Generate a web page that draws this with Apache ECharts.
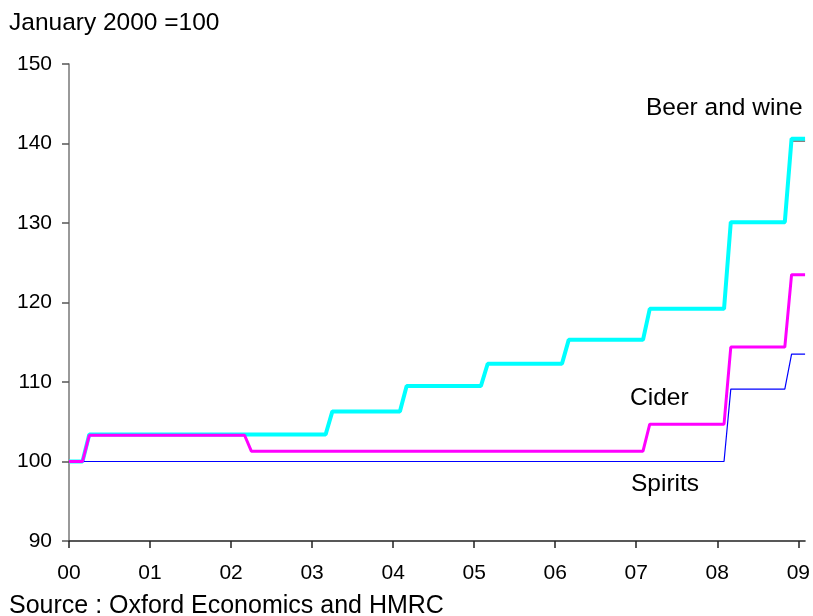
<!DOCTYPE html>
<html>
<head>
<meta charset="utf-8">
<script src="https://cdn.jsdelivr.net/npm/echarts@6/dist/echarts.min.js"></script>
<style>
  html, body { margin: 0; padding: 0; background: #fff; }
  #chartDiv { width: 813px; height: 616px; }
</style>
</head>
<body>
<div id="chartDiv"></div>
<script>
// year tick labels, one per January
const yearLabels = ["00", "01", "02", "03", "04", "05", "06", "07", "08", "09"];

// monthly index, Jan 2000 to Feb 2009, one row per year
const beerAndWine = [
    100, 100, 100, 103.4, 103.4, 103.4, 103.4, 103.4, 103.4, 103.4, 103.4, 103.4,
    103.4, 103.4, 103.4, 103.4, 103.4, 103.4, 103.4, 103.4, 103.4, 103.4, 103.4, 103.4,
    103.4, 103.4, 103.4, 103.4, 103.4, 103.4, 103.4, 103.4, 103.4, 103.4, 103.4, 103.4,
    103.4, 103.4, 103.4, 106.3, 106.3, 106.3, 106.3, 106.3, 106.3, 106.3, 106.3, 106.3,
    106.3, 106.3, 109.5, 109.5, 109.5, 109.5, 109.5, 109.5, 109.5, 109.5, 109.5, 109.5,
    109.5, 109.5, 112.3, 112.3, 112.3, 112.3, 112.3, 112.3, 112.3, 112.3, 112.3, 112.3,
    112.3, 112.3, 115.3, 115.3, 115.3, 115.3, 115.3, 115.3, 115.3, 115.3, 115.3, 115.3,
    115.3, 115.3, 119.2, 119.2, 119.2, 119.2, 119.2, 119.2, 119.2, 119.2, 119.2, 119.2,
    119.2, 119.2, 130.1, 130.1, 130.1, 130.1, 130.1, 130.1, 130.1, 130.1, 130.1, 140.6,
    140.6, 140.6
];

const beerAndWineGrey = [
    100, 100, 100, 103.4, 103.4, 103.4, 103.4, 103.4, 103.4, 103.4, 103.4, 103.4,
    103.4, 103.4, 103.4, 103.4, 103.4, 103.4, 103.4, 103.4, 103.4, 103.4, 103.4, 103.4,
    103.4, 103.4, 103.4, 103.4, 103.4, 103.4, 103.4, 103.4, 103.4, 103.4, 103.4, 103.4,
    103.4, 103.4, 103.4, 106.3, 106.3, 106.3, 106.3, 106.3, 106.3, 106.3, 106.3, 106.3,
    106.3, 106.3, 109.5, 109.5, 109.5, 109.5, 109.5, 109.5, 109.5, 109.5, 109.5, 109.5,
    109.5, 109.5, 112.3, 112.3, 112.3, 112.3, 112.3, 112.3, 112.3, 112.3, 112.3, 112.3,
    112.3, 112.3, 115.3, 115.3, 115.3, 115.3, 115.3, 115.3, 115.3, 115.3, 115.3, 115.3,
    115.3, 115.3, 119.2, 119.2, 119.2, 119.2, 119.2, 119.2, 119.2, 119.2, 119.2, 119.2,
    119.2, 119.2, 130.0, 130.0, 130.0, 130.0, 130.0, 130.0, 130.0, 130.0, 130.0, 140.3,
    140.3, 140.3
];

const cider = [
    100, 100, 100, 103.3, 103.3, 103.3, 103.3, 103.3, 103.3, 103.3, 103.3, 103.3,
    103.3, 103.3, 103.3, 103.3, 103.3, 103.3, 103.3, 103.3, 103.3, 103.3, 103.3, 103.3,
    103.3, 103.3, 103.3, 101.3, 101.3, 101.3, 101.3, 101.3, 101.3, 101.3, 101.3, 101.3,
    101.3, 101.3, 101.3, 101.3, 101.3, 101.3, 101.3, 101.3, 101.3, 101.3, 101.3, 101.3,
    101.3, 101.3, 101.3, 101.3, 101.3, 101.3, 101.3, 101.3, 101.3, 101.3, 101.3, 101.3,
    101.3, 101.3, 101.3, 101.3, 101.3, 101.3, 101.3, 101.3, 101.3, 101.3, 101.3, 101.3,
    101.3, 101.3, 101.3, 101.3, 101.3, 101.3, 101.3, 101.3, 101.3, 101.3, 101.3, 101.3,
    101.3, 101.3, 104.7, 104.7, 104.7, 104.7, 104.7, 104.7, 104.7, 104.7, 104.7, 104.7,
    104.7, 104.7, 114.4, 114.4, 114.4, 114.4, 114.4, 114.4, 114.4, 114.4, 114.4, 123.5,
    123.5, 123.5
];

const spirits = [
    100, 100, 100, 100, 100, 100, 100, 100, 100, 100, 100, 100,
    100, 100, 100, 100, 100, 100, 100, 100, 100, 100, 100, 100,
    100, 100, 100, 100, 100, 100, 100, 100, 100, 100, 100, 100,
    100, 100, 100, 100, 100, 100, 100, 100, 100, 100, 100, 100,
    100, 100, 100, 100, 100, 100, 100, 100, 100, 100, 100, 100,
    100, 100, 100, 100, 100, 100, 100, 100, 100, 100, 100, 100,
    100, 100, 100, 100, 100, 100, 100, 100, 100, 100, 100, 100,
    100, 100, 100, 100, 100, 100, 100, 100, 100, 100, 100, 100,
    100, 100, 109.1, 109.1, 109.1, 109.1, 109.1, 109.1, 109.1, 109.1, 109.1, 113.5,
    113.5, 113.5
];

// one category per month, labelled by its year
let months = [];
for (let i = 0; i < spirits.length; i++) {
    months.push(yearLabels[Math.floor(i / 12)] + "-" + ((i % 12) + 1));
}

let chart = echarts.init(document.getElementById("chartDiv"));

const fontFamily = "Liberation Sans, Arial, sans-serif";
const isJanuary = function (index) {
    return index % 12 === 0;
};

// free text on the chart, y is the middle of the capitals
function note(text, x, y, size) {
    return {
        type: "text",
        x: x,
        y: y,
        style: {
            text: text,
            fontSize: size,
            fill: "#000",
            fontFamily: fontFamily,
            verticalAlign: "middle",
        },
    };
}

let options = {
    animation: false,
    backgroundColor: "#fff",
    textStyle: { fontFamily: fontFamily },
    grid: {
        left: 69,
        right: 6,
        top: 64,
        bottom: 75,
    },
    xAxis: {
        type: "category",
        data: months,
        boundaryGap: false,
        axisLine: { lineStyle: { color: "#222", width: 1.5 } },
        axisTick: {
            show: true,
            interval: isJanuary,
            length: 7,
            lineStyle: { color: "#222", width: 1.5 },
        },
        axisLabel: {
            interval: isJanuary,
            margin: 22,
            color: "#000",
            fontSize: 21,
            fontFamily: fontFamily,
            formatter: function (value) {
                return value.split("-")[0];
            },
        },
        splitLine: { show: false },
    },
    yAxis: {
        type: "value",
        min: 90,
        max: 150,
        interval: 10,
        axisLine: { show: true, lineStyle: { color: "#777", width: 1.5 } },
        axisTick: { show: true, length: 7, lineStyle: { color: "#555", width: 1.5 } },
        axisLabel: {
            margin: 17,
            color: "#000",
            fontSize: 21,
            fontFamily: fontFamily,
        },
        splitLine: { show: false },
    },
    series: [
        {
            name: "Beer and wine (grey)",
            type: "line",
            data: beerAndWineGrey,
            showSymbol: false,
            z: 1,
            lineStyle: { color: "#8c8080", width: 2 },
        },
        {
            name: "Beer and wine",
            type: "line",
            data: beerAndWine,
            showSymbol: false,
            z: 2,
            lineStyle: { color: "#00ffff", width: 4 },
        },
        {
            name: "Spirits",
            type: "line",
            data: spirits,
            showSymbol: false,
            z: 3,
            lineStyle: { color: "#0000ff", width: 1.2 },
        },
        {
            name: "Cider",
            type: "line",
            data: cider,
            showSymbol: false,
            z: 4,
            lineStyle: { color: "#ff00ff", width: 3 },
        },
    ],
    graphic: [
        note("January 2000 =100", 9, 23, 24.5),
        note("Beer and wine", 646, 108, 24.5),
        note("Cider", 630, 398, 24.5),
        note("Spirits", 631, 484, 24.5),
        note("Source : Oxford Economics and HMRC", 9, 606, 25),
    ],
};
chart.setOption(options);
</script>
</body>
</html>
